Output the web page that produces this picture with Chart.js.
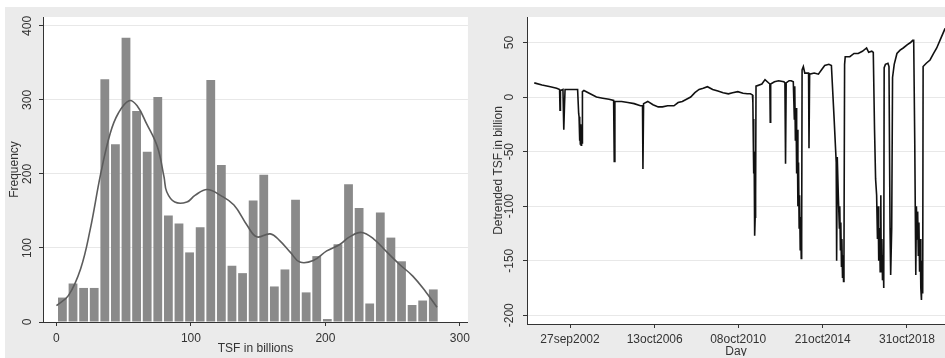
<!DOCTYPE html>
<html>
<head>
<meta charset="utf-8">
<script src="https://cdn.jsdelivr.net/npm/chart.js"></script>
<style>
  html, body { margin: 0; padding: 0; background: #fff; }
  #fondo { position: absolute; left: 5px; top: 7px; width: 940px; height: 351px; background: #ebebeb; }
  #histo { position: absolute; left: 5px; top: 7px; }
  #serie { position: absolute; left: 475px; top: 7px; }
</style>
</head>
<body>
<div id="fondo"></div>
<canvas id="histo" width="470" height="349"></canvas>
<canvas id="serie" width="470" height="349"></canvas>
<script>
// ================== DATOS: HISTOGRAMA (panel izquierdo) ==================

// Bins del histograma: inicio y ancho (TSF en billions)
const binStart = 0.5;
const binWidth = 7.88;

// Frecuencia de cada bin (36 barras)
const freqCounts = [
  33, 52, 46, 46, 328, 240, 384, 285, 230, 304,
  144, 133, 94, 128, 327, 212, 76, 66, 164, 199,
  48, 71, 165, 40, 89, 4, 105, 186, 154, 25,
  148, 114, 82, 23, 29, 44
];

// Curva de densidad (kernel) escalada a frecuencia
const kdeX = [0, 9, 18, 25, 33, 40, 46, 54, 60, 67, 75, 80, 82, 88, 97, 103, 112, 122,
  132, 142, 149, 159, 166, 174, 181, 191, 201, 211, 218, 227, 236, 246, 255, 265, 275, 283];
const kdeY = [22, 36, 72, 124, 201, 255, 282, 299, 292, 268, 237, 196, 176, 162, 162, 171, 179, 171,
  158, 130, 115, 119, 110, 94, 81, 83, 96, 105, 115, 121, 112, 94, 78, 62, 40, 20];

// Ticks
const histXTicks = [0, 100, 200, 300];
const histYTicks = [0, 100, 200, 300, 400];

// ================== DATOS: SERIE (panel derecho) ==================

// Fecha en años decimales
const dayYears = [
  2001.03, 2001.40, 2001.80, 2002.10, 2002.24, 2002.26, 2002.28, 2002.40, 2002.44, 2002.47,
  2002.50, 2002.80, 2003.10, 2003.15, 2003.17, 2003.19, 2003.21, 2003.23, 2003.25, 2003.27,
  2003.29, 2003.31, 2003.33, 2003.40, 2003.70, 2004.00, 2004.30, 2004.60, 2004.82, 2004.85,
  2004.88, 2005.20, 2005.50, 2005.80, 2006.10, 2006.20, 2006.22, 2006.25, 2006.45, 2006.70,
  2006.95, 2007.15, 2007.40, 2007.70, 2007.90, 2008.10, 2008.30, 2008.50, 2008.70, 2008.90,
  2009.10, 2009.30, 2009.55, 2009.80, 2010.05, 2010.30, 2010.50, 2010.75, 2011.00, 2011.20,
  2011.35, 2011.45, 2011.47, 2011.49, 2011.50, 2011.52, 2011.53, 2011.545, 2011.555, 2011.565,
  2011.58, 2011.60, 2011.62, 2011.90, 2012.05, 2012.28, 2012.30, 2012.32, 2012.50, 2012.70,
  2012.95, 2013.00, 2013.03, 2013.06, 2013.20, 2013.30, 2013.40, 2013.43, 2013.45, 2013.47,
  2013.50, 2013.53, 2013.56, 2013.59, 2013.62, 2013.65, 2013.68, 2013.70, 2013.73, 2013.75,
  2013.78, 2013.80, 2013.82, 2013.88, 2013.95, 2014.13, 2014.15, 2014.18, 2014.40, 2014.60,
  2014.75, 2014.90, 2015.10, 2015.22, 2015.35, 2015.45, 2015.47, 2015.50, 2015.55, 2015.60,
  2015.62, 2015.65, 2015.67, 2015.70, 2015.72, 2015.75, 2015.77, 2015.80, 2015.82, 2015.85,
  2015.88, 2016.10, 2016.30, 2016.50, 2016.70, 2016.90, 2017.00, 2017.15, 2017.22, 2017.28,
  2017.33, 2017.38, 2017.42, 2017.45, 2017.48, 2017.52, 2017.55, 2017.58, 2017.60, 2017.63,
  2017.66, 2017.69, 2017.72, 2017.74, 2017.80, 2017.92, 2017.97, 2018.02, 2018.05, 2018.10,
  2018.14, 2018.22, 2018.35, 2018.50, 2018.65, 2018.85, 2019.00, 2019.10, 2019.15, 2019.20,
  2019.25, 2019.28, 2019.31, 2019.34, 2019.37, 2019.40, 2019.43, 2019.46, 2019.49, 2019.52,
  2019.55, 2019.58, 2019.60, 2019.75, 2019.93, 2020.10, 2020.25, 2020.45, 2020.65
];

// TSF sin tendencia (billion)
const tsfValues = [
  13, 11, 9.5, 8, 7, -12, 6, 7, -30, -10,
  7, 7, 7, -15, -18, -40, -22, -43, -25, -44,
  -30, -42, 5, 6, 3, 0, -1, -2, -3, -59,
  -4, -4, -5, -6, -8, -8, -66, -6, -4, -7,
  -9, -9, -8, -8, -5, -4, -2, 0, 4, 7,
  8, 9.5, 7, 5.5, 4, 3, 4, 5, 3.5, 3,
  3, 2, -5, -40, -20, -70, -50, -100, -80, -127,
  -110, -90, 10, 12, 16, 12, -23, 12, 14, 15,
  14, 13, -61, 13, 15, 15, 14, 14, -20, 10,
  -40, -10, -70, -30, -100, -60, -120, -90, -140, -110,
  -148, -130, 25, 28, 22, 22, -47, 21, 22, 21,
  25, 29, 30, 29, -20, -60, -150, -55, -90, -120,
  -100, -140, -115, -155, -130, -165, -145, -169, -150, 30,
  37, 37, 40, 40, 42, 45, 41, 42, 41, -30,
  -75, -90, -130, -100, -150, -120, -160, -90, -155, -130,
  -168, -145, -175, 27, 30, 31, 28, -120, -163, -120,
  18, 30, 40, 43, 45, 48, 50, 52, 52, -40,
  -163, -100, -130, -105, -145, -115, -160, -130, -175, -186,
  -150, -180, 28, 31, 34, 40, 45, 54, 63
];

// Ticks del eje de fechas (posición en años decimales + etiqueta)
const dayTickPos = [2002.737, 2006.781, 2010.767, 2014.803, 2018.830];
const dayTickLabels = ['27sep2002', '13oct2006', '08oct2010', '21oct2014', '31oct2018'];
const tsfYTicks = [-200, -150, -100, -50, 0, 50];

// ================== ESTILO GENERAL ==================

Chart.defaults.font.family = "'Liberation Sans', Arial, sans-serif";
Chart.defaults.font.size = 12;
Chart.defaults.color = '#333';

// Fondo blanco sólo dentro del área del gráfico
const fondoBlanco = {
  id: 'fondoBlanco',
  beforeDraw(chart) {
    const a = chart.chartArea;
    chart.ctx.save();
    chart.ctx.fillStyle = '#fff';
    chart.ctx.fillRect(a.left, a.top, a.right - a.left, a.bottom - a.top);
    chart.ctx.restore();
  }
};

// Fija los ticks a una lista de valores
function fijarTicks(valores) {
  return (scale) => { scale.ticks = valores.map(v => ({ value: v })); };
}

// ================== GRÁFICO IZQUIERDO ==================

const histChart = new Chart(document.getElementById('histo'), {
  type: 'bar',
  data: {
    datasets: [
      {
        type: 'line',
        data: kdeX.map((x, i) => ({ x, y: kdeY[i] })),
        borderColor: '#5c5c5c',
        borderWidth: 1.6,
        pointRadius: 0,
        tension: 0.4,
        fill: false,
        order: 0
      },
      {
        type: 'bar',
        data: freqCounts.map((c, i) => ({ x: binStart + binWidth * (i + 0.5), y: c })),
        backgroundColor: '#8a8a8a',
        barPercentage: 1,
        categoryPercentage: 0.83,
        order: 1
      }
    ]
  },
  options: {
    responsive: false,
    animation: false,
    layout: { padding: { top: 10, right: 7, left: 0, bottom: 0 } },
    plugins: { legend: { display: false }, tooltip: { enabled: false } },
    scales: {
      x: {
        type: 'linear', min: -10, max: 306, offset: false,
        afterBuildTicks: fijarTicks(histXTicks),
        afterFit: (s) => { s.height = 34; },
        grid: { drawOnChartArea: false, tickLength: 4, tickColor: '#333', offset: false },
        border: { color: '#333' },
        ticks: { padding: 5, maxRotation: 0, autoSkip: false },
        title: { display: true, text: 'TSF in billions', padding: { top: 0, bottom: 0 } }
      },
      y: {
        type: 'linear', min: 0, max: 412,
        afterBuildTicks: fijarTicks(histYTicks),
        afterFit: (s) => { s.width = 38; },
        grid: { color: '#e8e8e8', tickLength: 4, tickColor: '#333' },
        border: { color: '#333' },
        ticks: { minRotation: 90, maxRotation: 90, crossAlign: 'center', padding: 1, autoSkip: false },
        title: { display: true, text: 'Frequency', padding: { top: 2, bottom: 0 } }
      }
    }
  },
  plugins: [fondoBlanco]
});

// ================== GRÁFICO DERECHO ==================

const serieChart = new Chart(document.getElementById('serie'), {
  type: 'line',
  data: {
    datasets: [{
      data: dayYears.map((x, i) => ({ x, y: tsfValues[i] })),
      borderColor: '#111',
      borderWidth: 1.6,
      pointRadius: 0,
      tension: 0,
      fill: false
    }]
  },
  options: {
    responsive: false,
    animation: false,
    layout: { padding: { top: 10, right: 0, left: 0, bottom: 0 } },
    plugins: { legend: { display: false }, tooltip: { enabled: false } },
    scales: {
      x: {
        type: 'linear', min: 2000.683, max: 2020.645, offset: false,
        afterBuildTicks: fijarTicks(dayTickPos),
        afterFit: (s) => { s.height = 32; },
        grid: { drawOnChartArea: false, tickLength: 4, tickColor: '#333' },
        border: { color: '#333' },
        ticks: { padding: 4, maxRotation: 0, autoSkip: false, callback: (v, i) => dayTickLabels[i] },
        title: { display: true, text: 'Day', padding: { top: 0, bottom: -3 } }
      },
      y: {
        type: 'linear', min: -208, max: 73.4,
        afterBuildTicks: fijarTicks(tsfYTicks),
        afterFit: (s) => { s.width = 52; },
        grid: { color: '#e8e8e8', tickLength: 4, tickColor: '#333' },
        border: { color: '#333' },
        ticks: { minRotation: 90, maxRotation: 90, crossAlign: 'center', padding: 1, autoSkip: false },
        title: { display: true, text: 'Detrended TSF in billion', padding: { top: 16, bottom: 0 } }
      }
    }
  },
  plugins: [fondoBlanco]
});
</script>
</body>
</html>
